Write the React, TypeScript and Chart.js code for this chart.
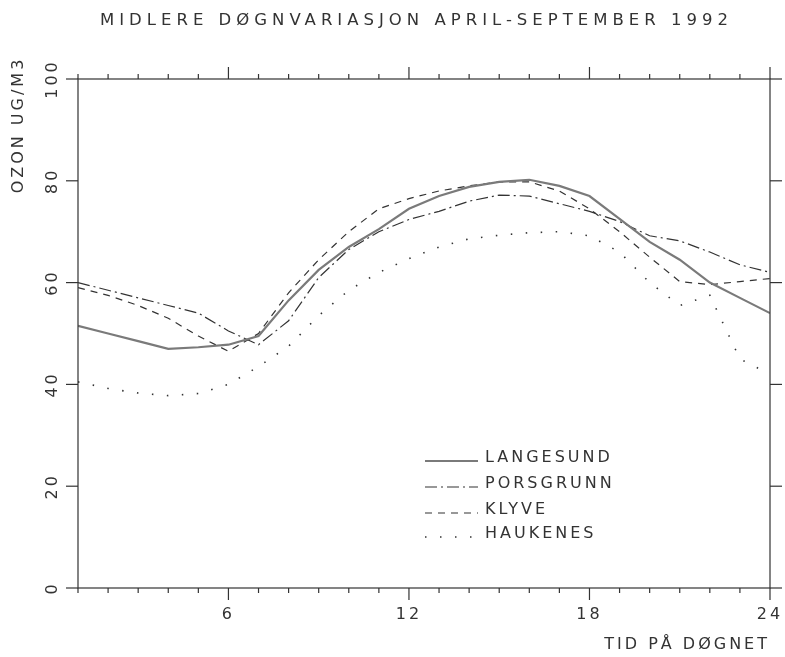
import React, { useEffect, useRef } from "react";
import { Chart, registerables } from "chart.js";

Chart.register(...registerables);

// ---- data ----
const hours = [1, 2, 3, 4, 5, 6, 7, 8, 9, 10, 11, 12, 13, 14, 15, 16, 17, 18, 19, 20, 21, 22, 23, 24];
const langesund = [51.5, 50, 48.5, 47, 47.3, 47.8, 49.5, 56.5, 62.5, 67, 70.5, 74.5, 77, 78.8, 79.8, 80.2, 79, 77, 72.5, 68, 64.5, 60, 57, 54];
const porsgrunn = [60, 58.5, 57, 55.5, 54, 50.5, 47.8, 52.5, 61, 66.5, 70, 72.4, 74, 76, 77.2, 77, 75.5, 74, 72, 69.2, 68.2, 66, 63.5, 62];
const klyve = [59, 57.5, 55.5, 53, 49.5, 46.5, 50, 58, 64.5, 70, 74.5, 76.5, 78, 79, 79.8, 79.8, 78, 74.5, 70, 65, 60.2, 59.6, 60.2, 60.8];
const haukenes = [40.5, 39.2, 38.3, 37.8, 38.2, 40, 43.5, 47.5, 53.5, 58.5, 62, 64.7, 67, 68.6, 69.3, 69.8, 70, 69.2, 66, 60, 55.5, 57.5, 45, 42];
const seriesNames = ["LANGESUND", "PORSGRUNN", "KLYVE", "HAUKENES"];
const xTickLabels = [6, 12, 18, 24];
const yTickValues = [0, 20, 40, 60, 80, 100];
const titleText = "MIDLERE DØGNVARIASJON APRIL-SEPTEMBER 1992";
const yTitleText = "OZON UG/M3";
const xTitleText = "TID PÅ DØGNET";

const FONT = '"DejaVu Sans", sans-serif';
const INK = "#333";
const SPACING = "3px";

const spacingPlugin = {
  id: "spacing",
  beforeInit(chart: any) { chart.ctx.letterSpacing = SPACING; },
  beforeUpdate(chart: any) { chart.ctx.letterSpacing = SPACING; },
  beforeLayout(chart: any) { chart.ctx.letterSpacing = SPACING; },
  beforeDraw(chart: any) { chart.ctx.letterSpacing = SPACING; },
};

const framePlugin = {
  id: "frame",
  afterDraw(chart: any) {
    const { ctx, chartArea, scales } = chart;
    const { left, right, top, bottom } = chartArea;
    const x = scales.x, y = scales.y;
    ctx.save();
    ctx.strokeStyle = INK;
    ctx.lineWidth = 1.2;
    const line = (a: number, b: number, c: number, d: number) => {
      ctx.beginPath(); ctx.moveTo(a, b); ctx.lineTo(c, d); ctx.stroke();
    };
    ctx.strokeRect(left, top, right - left, bottom - top);
    for (const h of hours) {
      const px = x.getPixelForValue(h);
      const len = h % 6 === 0 ? 12 : 5;
      line(px, bottom, px, bottom + len);
      line(px, top, px, top - len);
    }
    for (const v of yTickValues) {
      const py = y.getPixelForValue(v);
      line(left - 12, py, left, py);
      line(right, py, right + 12, py);
    }
    ctx.fillStyle = INK;
    // chart title
    ctx.save();
    ctx.letterSpacing = "5px";
    ctx.font = `16.5px ${FONT}`;
    ctx.textAlign = "left";
    ctx.textBaseline = "middle";
    ctx.fillText(titleText, 100, 21);
    ctx.restore();
    // y-axis title (rotated)
    ctx.letterSpacing = SPACING;
    ctx.font = `16px ${FONT}`;
    ctx.translate(19, 125);
    ctx.rotate(-Math.PI / 2);
    ctx.textAlign = "center";
    ctx.textBaseline = "middle";
    ctx.fillText(yTitleText, 0, 0);
    ctx.restore();
  },
};

const legendPlugin = {
  id: "customLegend",
  afterDraw(chart: any) {
    const { ctx } = chart;
    const baselines = [462, 488, 514, 538];
    ctx.save();
    ctx.letterSpacing = SPACING;
    ctx.font = `16px ${FONT}`;
    ctx.fillStyle = INK;
    ctx.textAlign = "left";
    ctx.textBaseline = "alphabetic";
    chart.data.datasets.forEach((ds: any, i: number) => {
      const yy = baselines[i];
      ctx.save();
      ctx.strokeStyle = ds.borderColor;
      ctx.lineWidth = ds.borderWidth;
      ctx.setLineDash(ds.borderDash || []);
      ctx.beginPath();
      ctx.moveTo(425, yy - 1);
      ctx.lineTo(478, yy - 1);
      ctx.stroke();
      ctx.restore();
      ctx.fillText(ds.label, 485, yy);
    });
    ctx.restore();
  },
};

export default function App() {
  const ref = useRef<HTMLCanvasElement | null>(null);
  useEffect(() => {
    if (!ref.current) return;
    const chart = new Chart(ref.current, {
      type: "line",
      data: {
        labels: hours,
        datasets: [
          { label: seriesNames[0], data: hours.map((h, i) => ({ x: h, y: langesund[i] })), borderColor: "#7a7a7a", borderWidth: 2.2, borderDash: [], pointRadius: 0, tension: 0 },
          { label: seriesNames[1], data: hours.map((h, i) => ({ x: h, y: porsgrunn[i] })), borderColor: INK, borderWidth: 1.2, borderDash: [12, 4, 2, 4], pointRadius: 0, tension: 0 },
          { label: seriesNames[2], data: hours.map((h, i) => ({ x: h, y: klyve[i] })), borderColor: INK, borderWidth: 1.2, borderDash: [7, 6], pointRadius: 0, tension: 0 },
          { label: seriesNames[3], data: hours.map((h, i) => ({ x: h, y: haukenes[i] })), borderColor: INK, borderWidth: 1.6, borderDash: [1.5, 13.5], pointRadius: 0, tension: 0 },
        ],
      },
      options: {
        animation: false,
        responsive: false,
        devicePixelRatio: 1,
        layout: { padding: { left: 0, right: 15, top: 79, bottom: 0 } },
        plugins: {
          legend: { display: false },
          tooltip: { enabled: false },
          title: { display: false },
        },
        scales: {
          x: {
            type: "linear",
            min: 1,
            max: 24,
            grid: { display: false, drawTicks: false },
            border: { display: false },
            afterBuildTicks: (scale: any) => {
              scale.ticks = xTickLabels.map((v) => ({ value: v }));
            },
            afterFit: (scale: any) => {
              scale.height = 69;
              scale.paddingLeft = 0;
              scale.paddingRight = 0;
            },
            ticks: {
              autoSkip: false,
              maxRotation: 0,
              minRotation: 0,
              padding: 17,
              color: INK,
              font: { family: FONT, size: 16 },
            },
            title: {
              display: true,
              text: xTitleText,
              align: "end",
              color: INK,
              font: { family: FONT, size: 16 },
              padding: { top: 0, bottom: 3 },
            },
          },
          y: {
            min: 0,
            max: 100,
            grid: { display: false, drawTicks: false },
            border: { display: false },
            afterBuildTicks: (scale: any) => {
              scale.ticks = yTickValues.map((v) => ({ value: v }));
            },
            afterFit: (scale: any) => {
              scale.width = 78;
              scale.paddingTop = 0;
              scale.paddingBottom = 0;
            },
            ticks: {
              autoSkip: false,
              minRotation: 90,
              maxRotation: 90,
              crossAlign: "center",
              padding: 5,
              color: INK,
              font: { family: FONT, size: 16 },
            },
          },
        },
      },
      plugins: [spacingPlugin, framePlugin, legendPlugin],
    } as any);
    return () => chart.destroy();
  }, []);
  return (
    <div style={{ position: "fixed", left: 0, top: 0, width: 785, height: 657, background: "#fff" }}>
      <canvas ref={ref} width={785} height={657} style={{ width: 785, height: 657, display: "block" }} />
    </div>
  );
}
